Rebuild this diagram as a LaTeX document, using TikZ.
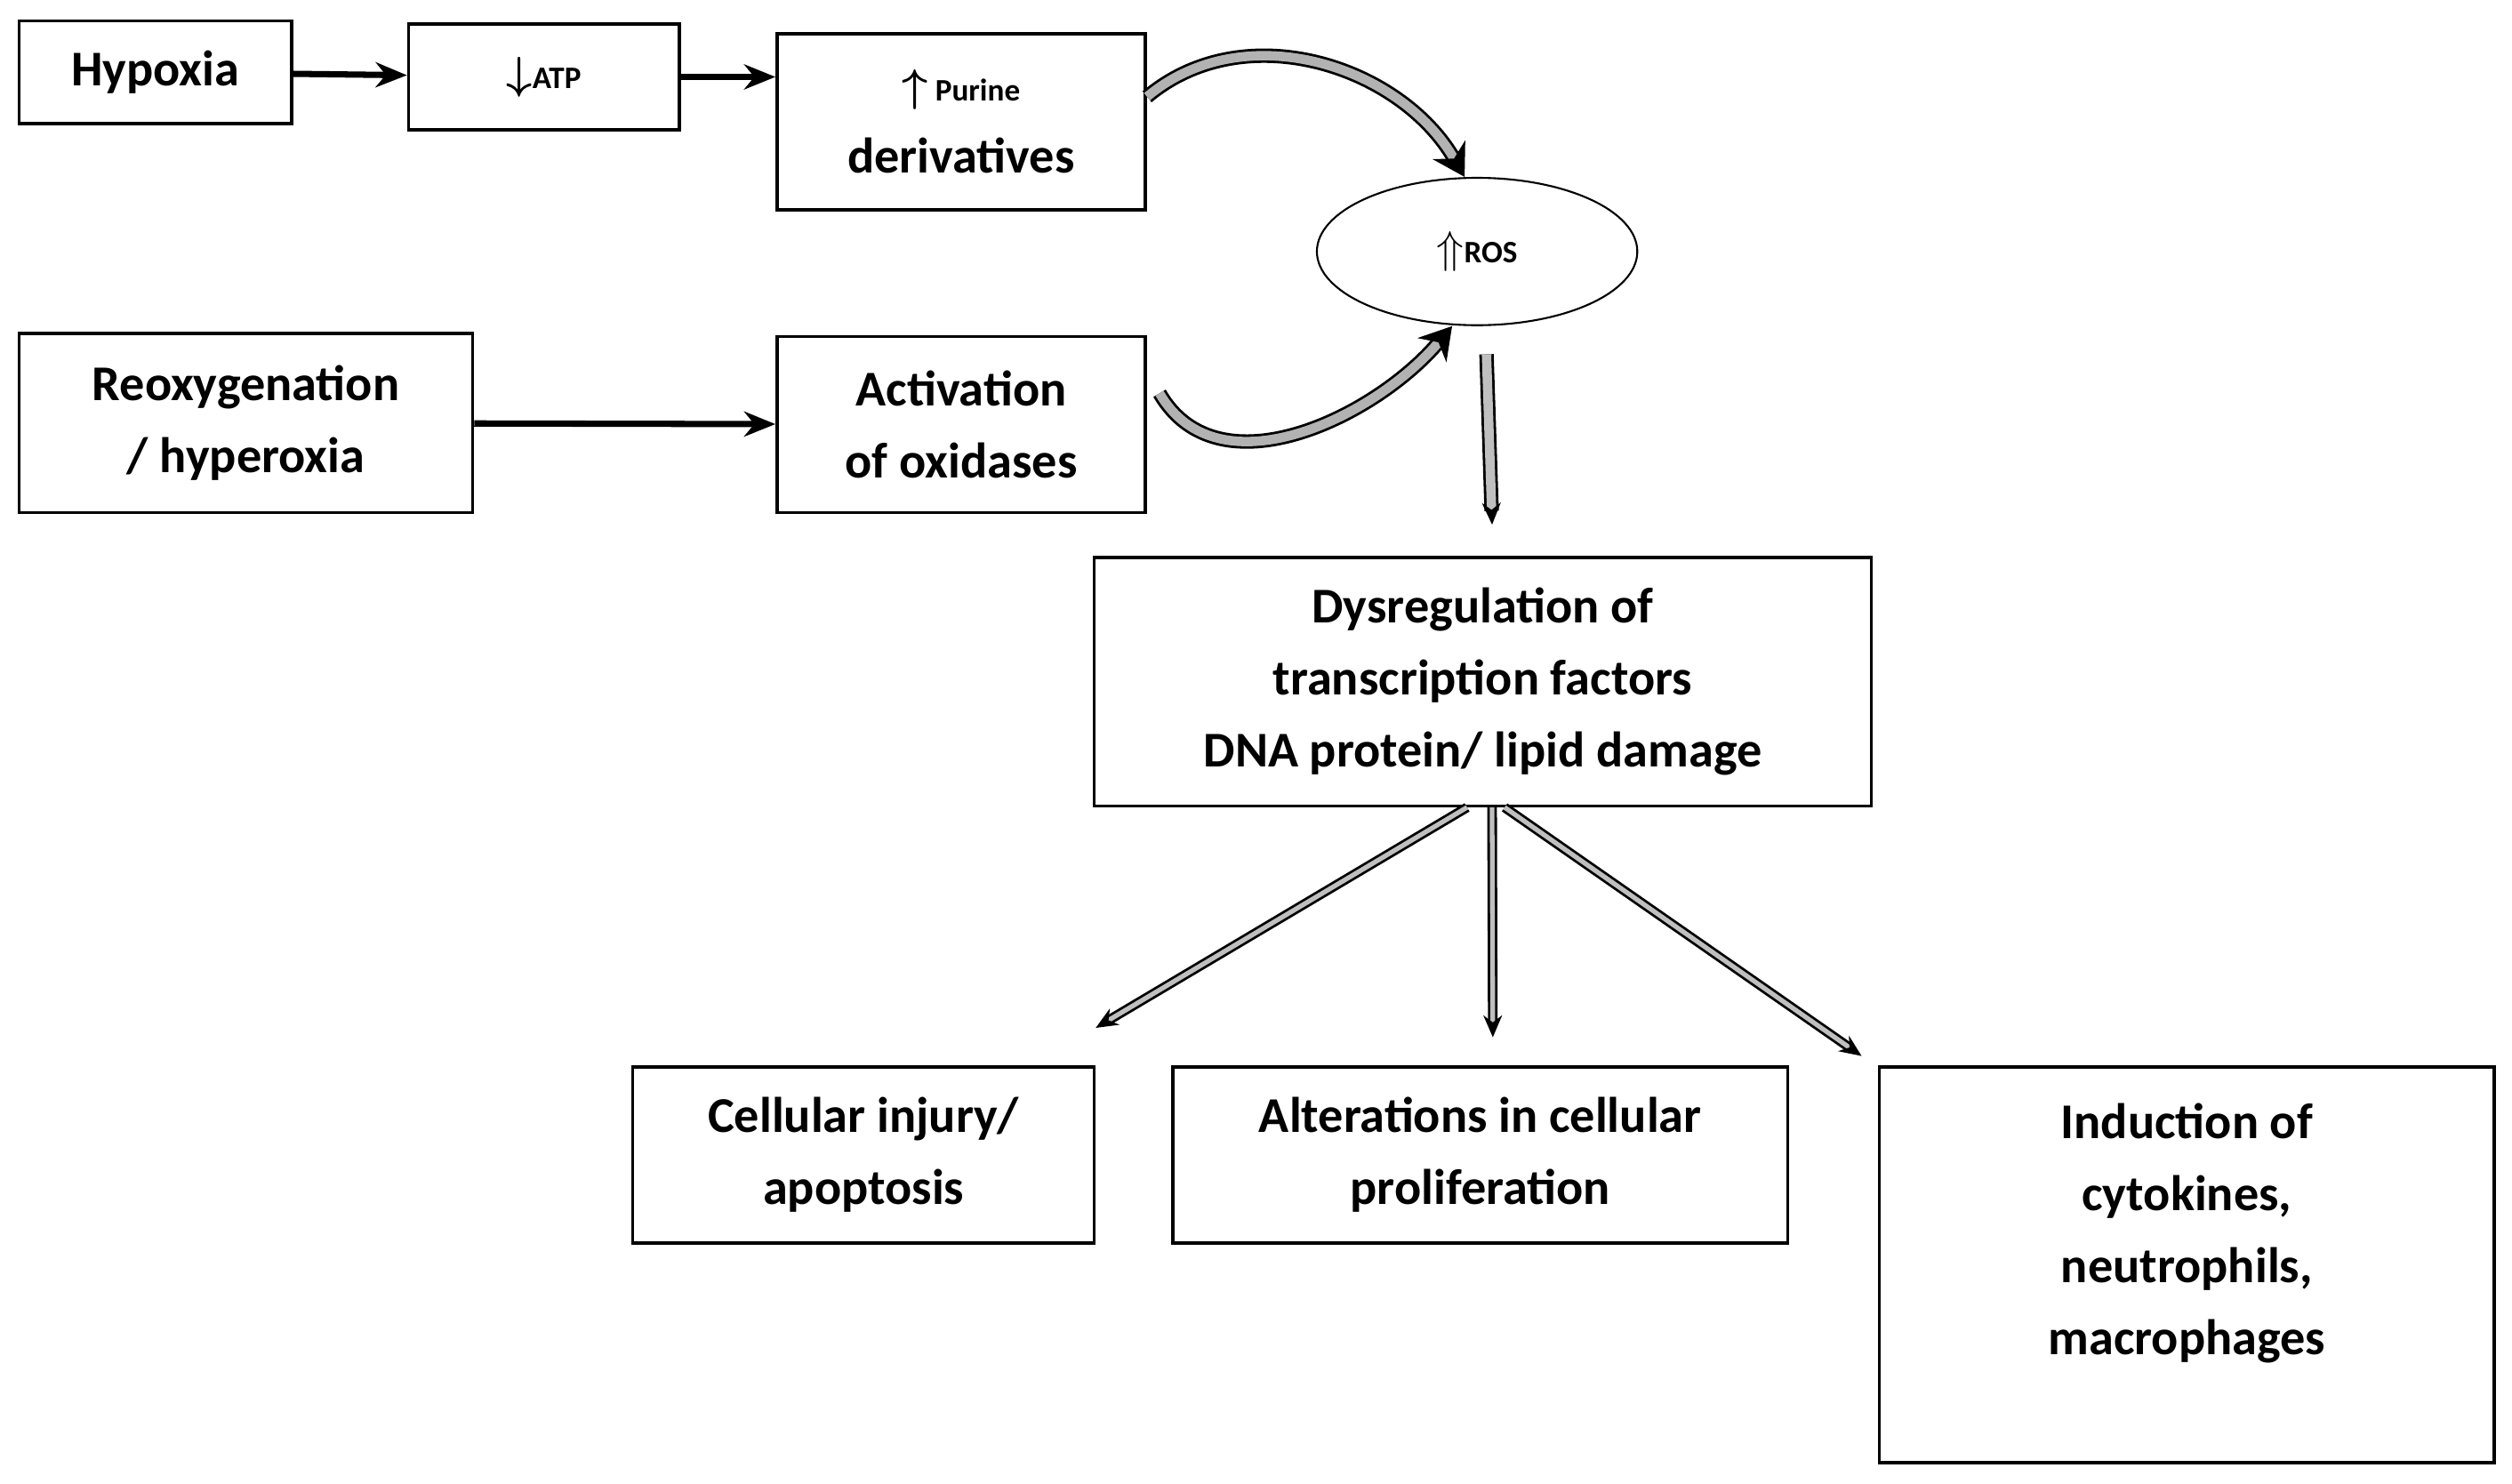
\documentclass[tikz,border=0pt]{standalone}
\usepackage{amsmath,amssymb}
\usepackage{fontspec}
\setmainfont{Carlito}
\usetikzlibrary{arrows.meta,shapes.geometric}
\begin{document}
\begin{tikzpicture}[x=0.018cm,y=-0.018cm,
  box/.style={draw,line width=1pt,align=center,font=\fontsize{16}{23}\selectfont\bfseries,inner sep=0pt},
  flow/.style={-{Stealth[length=10pt,width=8pt]},line width=2pt},
  curve/.style={-{Stealth[length=10pt,width=12pt]},draw=black,double=gray!60,double distance=3pt,line width=0.8pt},
  split/.style={-{Stealth[length=7pt,width=6pt]},draw=black,double=gray!50,double distance=1.5pt,line width=0.8pt}]
\useasboundingbox (0,0) rectangle (1568,926);
% boxes
\node[box,minimum width=170*0.018cm,minimum height=64*0.018cm] (hyp) at (97,45) {Hypoxia};
\node[box,minimum width=169*0.018cm,minimum height=66*0.018cm] (atp) at (339.5,48) {\Large$\boldsymbol{\downarrow}$\normalsize ATP};
\node[box,minimum width=230*0.018cm,minimum height=110*0.018cm] (pur) at (600,76) {\Large$\boldsymbol{\uparrow}$\normalsize\ Purine\\derivatives};
\node[draw,ellipse,line width=0.6pt,minimum width=200*0.018cm,minimum height=92*0.018cm,font=\fontsize{16}{18}\selectfont\bfseries] (ros) at (922,157) {\Large$\Uparrow$\normalsize ROS};
\node[box,minimum width=283*0.018cm,minimum height=112*0.018cm] (reo) at (153.5,264) {Reoxygenation\\/ hyperoxia};
\node[box,minimum width=230*0.018cm,minimum height=110*0.018cm] (act) at (600,265) {Activation\\of oxidases};
\node[box,minimum width=485*0.018cm,minimum height=155*0.018cm] (dys) at (925.5,425.5) {Dysregulation of\\transcription factors\\DNA protein/ lipid damage};
\node[box,minimum width=288*0.018cm,minimum height=110*0.018cm] (inj) at (539,721) {Cellular injury/\\apoptosis};
\node[box,minimum width=384*0.018cm,minimum height=110*0.018cm] (alt) at (924,721) {Alterations in cellular\\proliferation};
\node[box,minimum width=384*0.018cm,minimum height=247*0.018cm] (ind) at (1365,789.5) {Induction of\\cytokines,\\neutrophils,\\macrophages\\~};
% straight arrows
\draw[flow] (hyp) -- (atp);
\draw[flow] (atp) -- (atp.east -| pur.west);
\draw[flow] (reo) -- (act);
% curved block arrows
\draw[curve] ([yshift=8pt]pur.east) to[out=40,in=120] ([xshift=-4pt]ros.north);
\draw[curve] ([yshift=10pt,xshift=4pt]act.east) to[out=-60,in=230] ([xshift=-8pt]ros.south);
\draw[split,double distance=3pt] ([xshift=3pt,yshift=-9pt]ros.south) -- ([xshift=3pt,yshift=10pt]dys.north);
% splitting arrows
\draw[split] ([xshift=-5pt]dys.south) -- ([yshift=12pt]inj.north east);
\draw[split] ([xshift=3pt]dys.south) -- ([xshift=4pt,yshift=9pt]alt.north);
\draw[split] ([xshift=7pt]dys.south) -- ([xshift=-104pt,yshift=3pt]ind.north);
\end{tikzpicture}
\end{document}
